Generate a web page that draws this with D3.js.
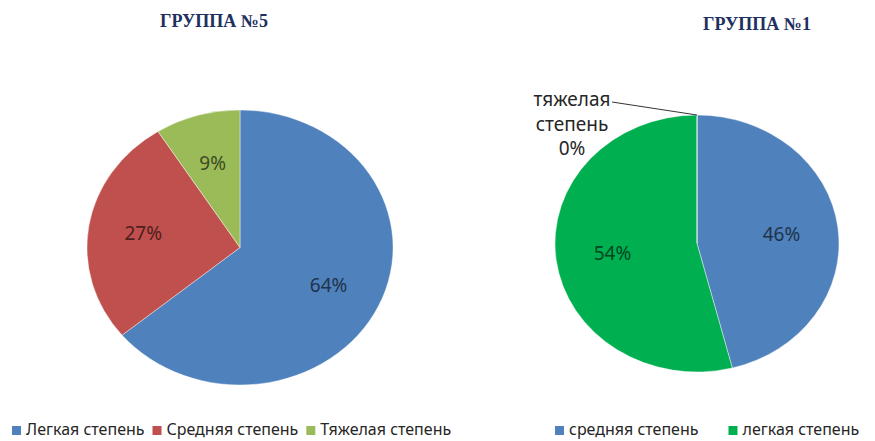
<!DOCTYPE html>
<html>
<head>
<meta charset="utf-8">
<script src="https://cdn.jsdelivr.net/npm/d3@7"></script>
<style>
  body { margin: 0; background: #fff; }
  text { font-family: "Noto Sans", sans-serif; }
</style>
</head>
<body>
<svg width="875" height="441"></svg>
<script>
// values
const titles = ["ГРУППА №5", "ГРУППА №1"];

const leftCategories = ["Легкая степень", "Средняя степень", "Тяжелая степень"];
const leftValues = [64, 27, 9];
const leftColors = ["#4f81bd", "#c0504d", "#9bbb59"];

const rightCategories = ["средняя степень", "легкая степень", "тяжелая степень"];
const rightValues = [46, 54, 0];
const rightColors = ["#4f81bd", "#00b050", "#9bbb59"];
const rightLegend = ["средняя степень", "легкая степень"];

const svg = d3.select("svg");
const pct = d3.format(".0%");

function drawPie(cfg) {
  const data = cfg.categories.map((c, i) => ({ name: c, value: cfg.values[i], color: cfg.colors[i] }));
  const total = d3.sum(data, d => d.value);
  const arcs = d3.pie().sort(null).value(d => d.value)(data);
  const arc = d3.arc().innerRadius(0).outerRadius(cfg.r);
  const labelArc = d3.arc().innerRadius(cfg.r * cfg.k).outerRadius(cfg.r * cfg.k);

  const g = svg.append("g").attr("transform", `translate(${cfg.cx},${cfg.cy})`);

  // the original is slightly stretched horizontally
  g.append("g").attr("transform", `scale(${cfg.sx},1)`)
    .selectAll("path")
    .data(arcs)
    .join("path")
    .attr("d", arc)
    .attr("fill", d => d.data.color)
    .attr("stroke", "#fff")
    .attr("stroke-width", 0.4);

  g.selectAll("text.pct")
    .data(arcs.filter(d => d.value > 0))
    .join("text")
    .attr("class", "pct")
    .attr("x", d => labelArc.centroid(d)[0] * cfg.sx)
    .attr("y", d => labelArc.centroid(d)[1])
    .attr("dy", "0.35em")
    .attr("text-anchor", "middle")
    .attr("font-size", 19)
    .attr("fill", d => d3.color(d.data.color).darker(2.6))
    .text(d => pct(d.value / total));

  // zero slice gets an outside label with a leader line
  arcs.filter(d => d.value === 0).forEach(d => {
    const a = d.startAngle;
    const px = Math.sin(a) * cfg.r * cfg.sx, py = -Math.cos(a) * cfg.r;
    const ex = px - 85, ey = py - 13;
    g.append("line")
      .attr("x1", px).attr("y1", py).attr("x2", ex).attr("y2", ey)
      .attr("stroke", "#000").attr("stroke-width", 0.8);
    const lines = d.data.name.split(" ").concat([pct(d.value / total)]);
    g.append("text")
      .attr("text-anchor", "middle")
      .attr("font-size", 19)
      .attr("fill", "#262626")
      .selectAll("tspan")
      .data(lines)
      .join("tspan")
      .attr("x", ex - 40)
      .attr("y", (l, i) => ey + 4 + i * 24.5)
      .text(l => l);
  });

  svg.append("text")
    .attr("x", cfg.tx).attr("y", cfg.ty)
    .attr("text-anchor", "middle")
    .style("font-family", "'Liberation Serif', serif")
    .attr("font-weight", "bold")
    .attr("font-size", 18)
    .attr("fill", "#1f3060")
    .text(cfg.title);
}

function drawLegend(names, colors, x0, y, gap) {
  let x = x0;
  names.forEach((n, i) => {
    svg.append("rect")
      .attr("x", x).attr("y", y - 9)
      .attr("width", 9).attr("height", 9)
      .attr("fill", colors[i]);
    const t = svg.append("text")
      .attr("x", x + 14).attr("y", y)
      .attr("font-size", 16)
      .attr("fill", "#262626")
      .text(n);
    x += 14 + t.node().getComputedTextLength() + gap;
  });
}

drawPie({ categories: leftCategories, values: leftValues, colors: leftColors,
  cx: 240, cy: 247.5, r: 137.5, sx: 1.113, k: 0.64, title: titles[0], tx: 214, ty: 27 });
drawPie({ categories: rightCategories, values: rightValues, colors: rightColors,
  cx: 697, cy: 243.5, r: 128.5, sx: 1.105, k: 0.6, title: titles[1], tx: 757, ty: 30 });

drawLegend(leftCategories, leftColors, 12, 435, 8);
drawLegend(rightLegend, rightColors.slice(0, 2), 555, 435, 30);
</script>
</body>
</html>
